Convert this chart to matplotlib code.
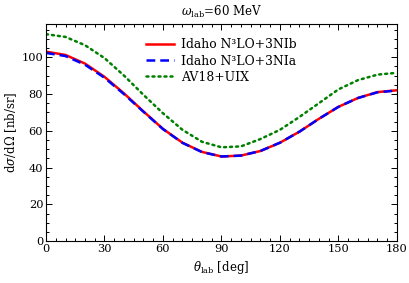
# cross_section_plot.py
# 微分截面角分布图 (omega_lab = 60 MeV)

import matplotlib
matplotlib.use('Agg')
import matplotlib.pyplot as plt
from matplotlib.ticker import MultipleLocator

plt.rcParams['font.family'] = ['DejaVu Serif']
plt.rcParams['mathtext.fontset'] = 'dejavuserif'

# 数据
theta = [0, 10, 20, 30, 40, 50, 60, 70, 80, 90,
         100, 110, 120, 130, 140, 150, 160, 170, 180]
idaho_3nib = [103.0, 101.2, 96.5, 89.3, 80.3, 70.5, 61.0, 53.5, 48.5, 46.0,
              46.5, 49.0, 53.5, 59.5, 66.5, 73.0, 77.8, 81.0, 82.0]
idaho_3nia = [102.3, 100.6, 95.9, 88.8, 79.9, 70.3, 60.9, 53.4, 48.4, 46.0,
              46.5, 49.0, 53.5, 59.5, 66.5, 73.0, 77.8, 80.9, 81.9]
av18_uix = [112.5, 111.0, 106.5, 99.5, 90.0, 79.5, 69.5, 60.5, 54.0, 51.0,
            51.5, 55.5, 60.5, 67.5, 75.0, 82.5, 87.5, 90.5, 91.5]

labels = ['Idaho N\u00b3LO+3NIb', 'Idaho N\u00b3LO+3NIa', 'AV18+UIX']

fig = plt.figure(figsize=(4.09, 2.83), dpi=100)
ax = fig.add_axes([0.1125, 0.148, 0.858, 0.767])

ax.plot(theta, idaho_3nib, color='#ff0000', lw=1.8, label=labels[0])
ax.plot(theta, idaho_3nia, color='#0000ff', lw=1.8, ls=(0, (3.5, 2)), label=labels[1])
ax.plot(theta, av18_uix, color='#008000', lw=1.8, ls=(0, (0.8, 1.6)),
        dash_capstyle='round', label=labels[2])

ax.set_xlim(0, 180)
ax.set_ylim(0, 118)
ax.xaxis.set_major_locator(MultipleLocator(30))
ax.xaxis.set_minor_locator(MultipleLocator(5))
ax.yaxis.set_major_locator(MultipleLocator(20))
ax.yaxis.set_minor_locator(MultipleLocator(5))
ax.tick_params(which='both', direction='in', top=True, right=True,
               labelsize=8.2, pad=2, width=0.7)
ax.tick_params(which='major', length=4.5)
ax.tick_params(which='minor', length=2.5)
for s in ax.spines.values():
    s.set_linewidth(0.8)

ax.set_title(r'$\omega_{\rm lab}$=60 MeV', fontsize=8.5, pad=6)
ax.set_xlabel(r'$\theta_{\rm lab}$ [deg]', fontsize=8.5, labelpad=4)
ax.set_ylabel(r'd$\sigma$/d$\Omega$ [nb/sr]', fontsize=8.5, labelpad=2)

ax.legend(loc='upper center', bbox_to_anchor=(0.5, 0.985), frameon=False,
          fontsize=8.9, handlelength=2.2, labelspacing=0.25, handletextpad=0.6)

fig.savefig('out.png', dpi=100)
